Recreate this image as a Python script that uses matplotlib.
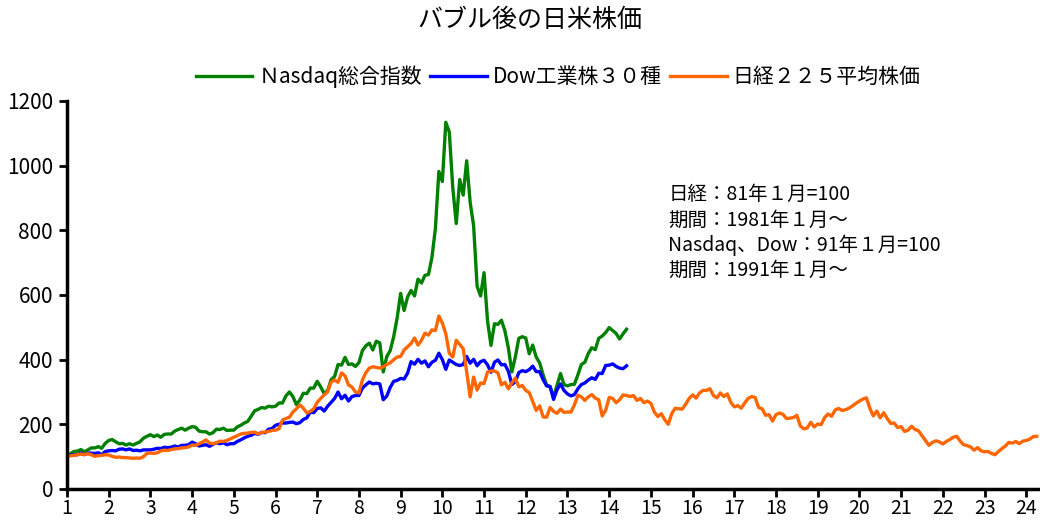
import numpy as np
import matplotlib
matplotlib.use("agg")
import matplotlib.pyplot as plt

plt.rcParams["font.family"] = ["Noto Sans CJK JP", "DejaVu Sans"]

# monthly index values, Nikkei from Jan 1981, Nasdaq / Dow from Jan 1991
nikkei = [
    100, 103, 104, 106, 108, 107, 109, 106, 101, 103, 104, 106,
    105, 101, 98, 99, 97, 97, 96, 95, 96, 95, 100, 110,
    111, 110, 112, 118, 120, 119, 122, 124, 125, 127, 128, 130,
    136, 135, 140, 145, 152, 142, 140, 143, 148, 147, 150, 155,
    160, 165, 170, 172, 173, 175, 176, 170, 175, 176, 178, 181,
    182, 186, 213, 218, 222, 238, 248, 260, 250, 235, 240, 248,
    268, 280, 291, 300, 331, 337, 330, 359, 350, 322, 315, 300,
    297, 337, 360, 374, 378, 376, 374, 378, 385, 390, 400, 408,
    410, 430, 440, 450, 467, 445, 460, 482, 476, 492, 490, 535,
    513, 480, 420, 408, 460, 447, 434, 363, 285, 346, 306, 328,
    326, 362, 365, 365, 359, 322, 330, 310, 328, 343, 316, 320,
    305, 298, 271, 243, 257, 223, 222, 252, 240, 234, 247, 237,
    238, 238, 260, 290, 285, 274, 285, 292, 281, 276, 226, 244,
    283, 280, 267, 276, 291, 289, 286, 289, 274, 280, 267, 272,
    265, 238, 224, 233, 214, 200, 233, 250, 248, 247, 262, 280,
    291, 281, 297, 305, 305, 310, 289, 282, 297, 286, 294, 268,
    254, 258, 250, 266, 280, 286, 283, 252, 248, 228, 230, 210,
    230, 235, 231, 218, 219, 221, 228, 195, 186, 189, 206, 192,
    201, 199, 221, 232, 225, 244, 249, 243, 245, 250, 257, 265,
    272, 278, 282, 250, 226, 241, 220, 236, 218, 203, 204, 190,
    193, 178, 182, 194, 184, 180, 165, 150, 135, 144, 149, 146,
    139, 147, 153, 160, 163, 148, 137, 134, 130, 120, 128, 118,
    115, 116, 110, 106, 116, 125, 133, 144, 142, 147, 140, 148,
    150, 154, 162, 163,
]

nasdaq = [
    100, 109, 116, 117, 122, 115, 121, 127, 127, 131, 126, 141,
    150, 153, 146, 140, 141, 136, 140, 136, 141, 146, 157, 163,
    168, 162, 167, 160, 169, 170, 170, 179, 184, 188, 182, 188,
    193, 191, 179, 177, 177, 170, 174, 185, 184, 188, 181, 182,
    182, 192, 197, 204, 209, 225, 242, 246, 252, 250, 256, 254,
    256, 266, 266, 288, 300, 286, 261, 275, 296, 295, 312, 312,
    333, 316, 295, 304, 338, 348, 385, 383, 407, 385, 387, 379,
    391, 428, 443, 451, 430, 457, 452, 362, 409, 428, 471, 529,
    605, 552, 594, 614, 597, 649, 637, 661, 663, 716, 805, 982,
    951, 1134, 1104, 932, 821, 957, 909, 1015, 887, 814, 627, 597,
    669, 520, 444, 511, 509, 522, 489, 436, 362, 408, 466, 471,
    467, 418, 445, 408, 390, 353, 321, 317, 283, 321, 357, 323,
    319, 323, 324, 353, 385, 392, 419, 437, 431, 466, 473, 484,
    499, 490, 481, 464, 480, 494,
]

dow = [
    100, 105, 106, 106, 111, 106, 111, 111, 110, 112, 106, 116,
    118, 119, 118, 123, 124, 121, 124, 119, 120, 118, 121, 121,
    121, 123, 126, 125, 129, 128, 129, 133, 130, 135, 135, 137,
    145, 140, 133, 135, 137, 132, 138, 143, 140, 143, 137, 140,
    140, 147, 152, 158, 163, 166, 172, 169, 175, 174, 185, 187,
    197, 200, 204, 204, 206, 207, 202, 205, 215, 220, 238, 236,
    249, 251, 241, 256, 268, 280, 300, 279, 290, 272, 286, 289,
    289, 312, 322, 331, 325, 327, 325, 276, 287, 314, 333, 336,
    342, 340, 358, 394, 386, 401, 389, 396, 378, 392, 398, 420,
    400, 370, 399, 392, 385, 382, 385, 410, 389, 401, 381, 394,
    398, 384, 361, 392, 399, 384, 385, 364, 323, 332, 360, 366,
    363, 369, 380, 363, 363, 338, 319, 317, 277, 307, 325, 305,
    294, 288, 292, 310, 323, 328, 337, 344, 339, 358, 357, 382,
    383, 387, 379, 374, 372, 381,
]

labels = ["Ｎasdaq総合指数", "Dow工業株３０種", "日経２２５平均株価"]
note = "日経：81年１月=100\n期間：1981年１月～\nNasdaq、Dow：91年１月=100\n期間：1991年１月～"

x_nk = 1 + np.arange(len(nikkei)) / 12
x_us = 1 + np.arange(len(nasdaq)) / 12

fig = plt.figure(figsize=(10.4, 5.24), dpi=100)
ax = fig.add_axes([0.0644, 0.0668, 0.9356, 0.7405])

ax.plot(x_us, nasdaq, color="#008000", lw=2.4, label=labels[0])
ax.plot(x_us, dow, color="#0000ff", lw=2.4, label=labels[1])
ax.plot(x_nk, nikkei, color="#ff6600", lw=2.4, label=labels[2])

ax.set_xlim(1, 24.33)
ax.set_ylim(0, 1200)
ax.set_xticks(range(1, 25))
ax.set_yticks(range(0, 1201, 200))
ax.tick_params(axis="both", labelsize=15, width=2, length=6, direction="out")
ax.tick_params(axis="x", pad=0.5, labelsize=14)
ax.tick_params(axis="y", pad=4)
for side in ["top", "right"]:
    ax.spines[side].set_visible(False)
for side in ["left", "bottom"]:
    ax.spines[side].set_linewidth(2.5)

ax.legend(loc="center", bbox_to_anchor=(0.505, 1.062), ncol=3, frameon=False,
          fontsize=15, handlelength=2.7, handletextpad=0.3, columnspacing=0.4)

ax.text(0.618, 0.785, note, transform=ax.transAxes, fontsize=14,
        va="top", ha="left", linespacing=1.25)

fig.text(0.51, 0.962, "バブル後の日米株価", ha="center", va="center", fontsize=18)

plt.savefig("out.png", dpi=100)
